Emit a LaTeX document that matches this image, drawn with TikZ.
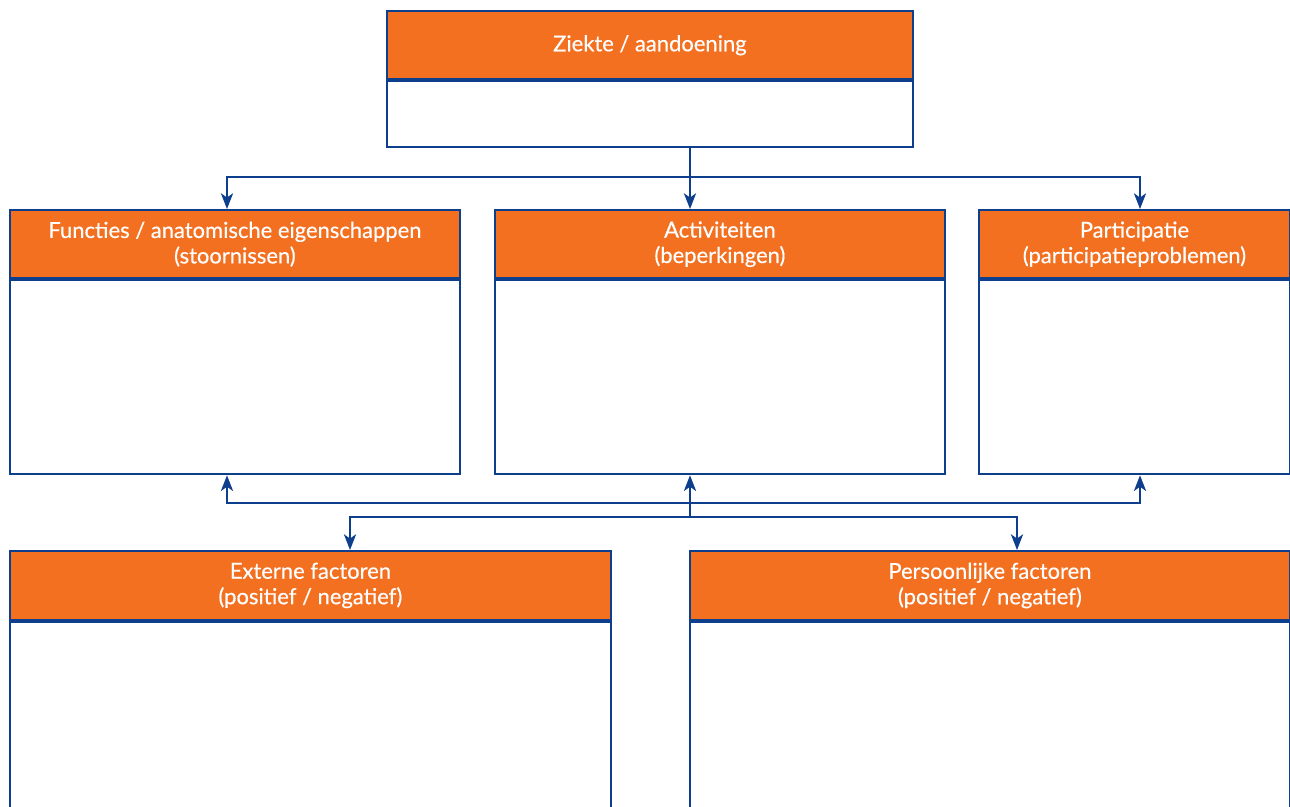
\documentclass[tikz,border=0pt]{standalone}
\usepackage{fontspec}
\setmainfont{Lato}[FakeBold=0.4]
\usetikzlibrary{positioning,arrows.meta}
\definecolor{icforange}{HTML}{F37021}
\definecolor{icfblue}{HTML}{0E3F8C}
\tikzset{
	kop/.style={draw=icfblue, line width=1.1pt, fill=icforange,
			text=white, anchor=north west, align=center, inner sep=0pt,
			font=\fontsize{12.5}{14.5}\selectfont, minimum height=1.37cm},
	vak/.style={draw=icfblue, line width=1.1pt, fill=white,
			anchor=north, inner sep=0pt},
	lijn/.style={draw=icfblue, line width=0.75pt},
	pijl/.style={lijn, -{Stealth[length=9pt,width=7pt,inset=2.5pt]}}
}

\begin{document}
\begin{tikzpicture}[x=0.02cm, y=-0.02cm]
		\clip (0,0) rectangle (1290,807);

		% Ziekte / aandoening
		\node[kop, minimum width=10.52cm] (ziekte) at (386,10) {Ziekte / aandoening};
		\node[vak, minimum width=10.52cm, minimum height=1.32cm] (ziektevak) at (ziekte.south) {};

		% Functies
		\node[kop, minimum width=9cm] (functies) at (9,209)
		{Functies / anatomische eigenschappen\\(stoornissen)};
		\node[vak, minimum width=9cm, minimum height=3.88cm] (functiesvak) at (functies.south) {};

		% Activiteiten
		\node[kop, minimum width=9cm] (activiteiten) at (494,209)
		{Activiteiten\\(beperkingen)};
		\node[vak, minimum width=9cm, minimum height=3.88cm] (activiteitenvak) at (activiteiten.south) {};

		% Participatie
		\node[kop, minimum width=6.22cm] (participatie) at (978,209)
		{Participatie\\(participatieproblemen)};
		\node[vak, minimum width=6.22cm, minimum height=3.88cm] (participatievak) at (participatie.south) {};

		% Externe factoren
		\node[kop, minimum width=12.02cm, minimum height=1.38cm] (extern) at (9,550)
		{Externe factoren\\(positief / negatief)};
		\node[vak, minimum width=12.02cm, minimum height=6cm] (externvak) at (extern.south) {};

		% Persoonlijke factoren
		\node[kop, minimum width=12cm, minimum height=1.38cm] (persoonlijk) at (689,550)
		{Persoonlijke factoren\\(positief / negatief)};
		\node[vak, minimum width=12cm, minimum height=6cm] (persoonlijkvak) at (persoonlijk.south) {};

		% knooppunten van de lijnen
		\coordinate (boven) at (690,177);
		\coordinate (midden) at (690,503);
		\coordinate (onder) at (690,517);
		\coordinate (kolf) at (227,0);
		\coordinate (kolp) at (1140,0);
		\coordinate (kole) at (350,0);
		\coordinate (kolpf) at (1017,0);

		% Arrows naar de middelste rij
		\draw[lijn] (boven |- ziektevak.south) -- (boven);
		\draw[pijl] (boven) -| (kolf |- functies.north);
		\draw[pijl] (boven) -- (boven |- activiteiten.north);
		\draw[pijl] (boven) -| (kolp |- participatie.north);

		% Arrows tussen de rijen
		\draw[pijl] (onder) -- (onder |- activiteitenvak.south);
		\draw[pijl] (midden) -| (kolf |- functiesvak.south);
		\draw[pijl] (midden) -| (kolp |- participatievak.south);
		\draw[pijl] (onder) -| (kole |- extern.north);
		\draw[pijl] (onder) -| (kolpf |- persoonlijk.north);
	\end{tikzpicture}
\end{document}
